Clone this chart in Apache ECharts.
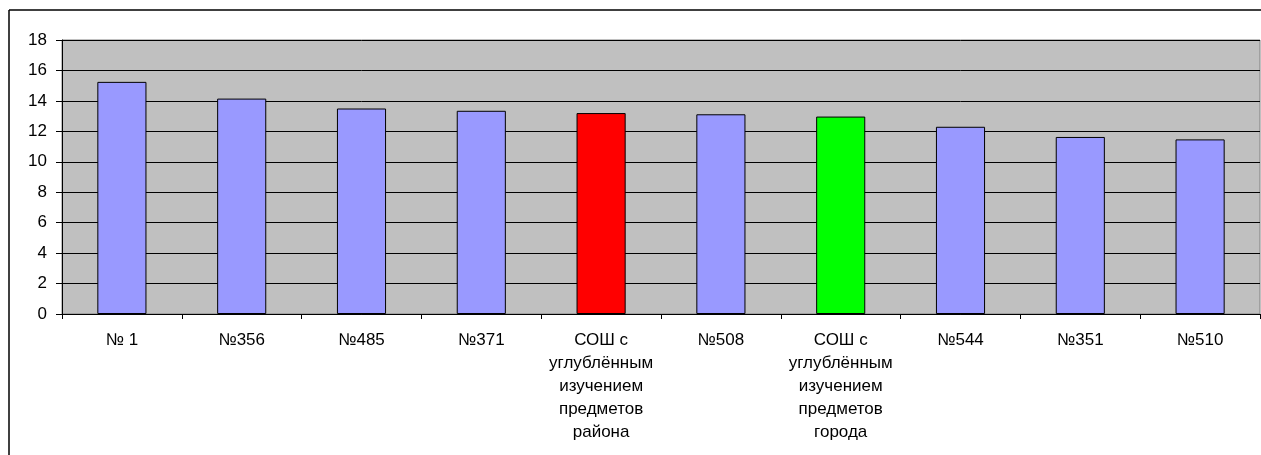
<!DOCTYPE html>
<html>
<head>
<meta charset="utf-8">
<script src="https://cdn.jsdelivr.net/npm/echarts@6/dist/echarts.min.js"></script>
<style>
html,body{margin:0;padding:0;background:#fff;}
#chart{width:1261px;height:455px;}
</style>
</head>
<body>
<div id="chart"></div>
<script>
const categories = ['№ 1', '№356', '№485', '№371', 'СОШ с углублённым изучением предметов района', '№508', 'СОШ с углублённым изучением предметов города', '№544', '№351', '№510'];
const values = [15.25, 14.15, 13.5, 13.35, 13.2, 13.12, 12.97, 12.3, 11.63, 11.47];
const barColors = ['#9999FF', '#9999FF', '#9999FF', '#9999FF', '#FF0000', '#9999FF', '#00FF00', '#9999FF', '#9999FF', '#9999FF'];

function wrap(s) {
  const words = s.split(' ');
  const lines = [];
  let cur = '';
  for (const w of words) {
    if (cur && (cur + ' ' + w).length > 12) { lines.push(cur); cur = w; }
    else cur = cur ? cur + ' ' + w : w;
  }
  if (cur) lines.push(cur);
  return lines.join('\n');
}

const chart = echarts.init(document.getElementById('chart'), null, {renderer: 'canvas'});
chart.setOption({
  animation: false,
  textStyle: {fontFamily: 'Liberation Sans, Arial, sans-serif'},
  grid: {left: 62, top: 40, right: 1, bottom: 141, show: true, backgroundColor: '#C0C0C0', borderColor: '#808080', borderWidth: 1},
  graphic: [
    {type: 'line', shape: {x1: 9, y1: 10, x2: 1261, y2: 10}, style: {stroke: '#000', lineWidth: 1.5}},
    {type: 'line', shape: {x1: 9, y1: 10, x2: 9, y2: 455}, style: {stroke: '#000', lineWidth: 1.5}}
  ],
  xAxis: {
    type: 'category',
    data: categories,
    axisLine: {lineStyle: {color: '#000', width: 1}},
    axisTick: {show: true, length: 5, lineStyle: {color: '#000'}},
    axisLabel: {
      interval: 0, color: '#000', fontSize: 17, lineHeight: 23, margin: 15,
      formatter: wrap
    }
  },
  yAxis: {
    type: 'value', min: 0, max: 18, interval: 2,
    axisLine: {show: true, lineStyle: {color: '#000', width: 1}},
    axisTick: {show: true, length: 6, lineStyle: {color: '#000'}},
    axisLabel: {color: '#000', fontSize: 17, margin: 15},
    splitLine: {show: true, lineStyle: {color: '#000', width: 1}}
  },
  series: [{
    type: 'bar',
    data: values.map((v, i) => ({value: v, itemStyle: {color: barColors[i]}})),
    barWidth: '41%',
    itemStyle: {borderColor: '#000', borderWidth: 1}
  }]
});
</script>
</body>
</html>
